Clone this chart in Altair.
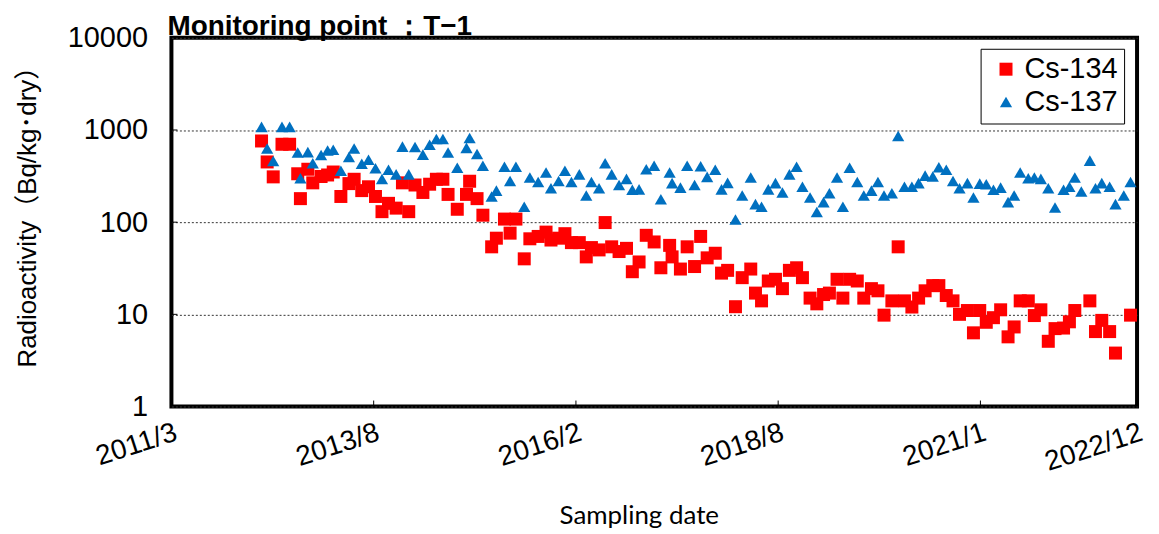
import altair as alt
import pandas as pd

dates = [
    "2012-04-15", "2012-05-10", "2012-06-06", "2012-07-15", "2012-08-18", "2012-09-23", "2012-10-05", "2012-11-07", "2012-11-29",
    "2013-01-05", "2013-02-03", "2013-02-28", "2013-04-03", "2013-05-09", "2013-06-01", "2013-07-05", "2013-08-04", "2013-09-04", "2013-10-03", "2013-11-01", "2013-12-05",
    "2014-01-02", "2014-01-30", "2014-02-27", "2014-04-03", "2014-05-03", "2014-06-02", "2014-07-01", "2014-07-24", "2014-09-03", "2014-10-14", "2014-10-28", "2014-11-30", "2014-12-26",
    "2015-02-03", "2015-02-24", "2015-04-01", "2015-04-26", "2015-05-22", "2015-06-28", "2015-07-23", "2015-08-29", "2015-10-03", "2015-10-25", "2015-11-28", "2015-12-26",
    "2016-01-24", "2016-02-28", "2016-03-30", "2016-04-22", "2016-05-26", "2016-06-22", "2016-07-21", "2016-08-23", "2016-09-25", "2016-10-21", "2016-11-20", "2016-12-22",
    "2017-01-26", "2017-02-25", "2017-04-05", "2017-04-16", "2017-05-23", "2017-06-22", "2017-07-25", "2017-08-21", "2017-09-19", "2017-10-25", "2017-11-22", "2017-12-19",
    "2018-01-23", "2018-02-22", "2018-04-01", "2018-04-22", "2018-05-19", "2018-06-18", "2018-07-20", "2018-08-20", "2018-09-20", "2018-10-22", "2018-11-17", "2018-12-21",
    "2019-01-20", "2019-02-19", "2019-03-17", "2019-04-20", "2019-05-16", "2019-06-15", "2019-07-19", "2019-08-17", "2019-09-20", "2019-10-19", "2019-11-15", "2019-12-20",
    "2020-01-17", "2020-02-14", "2020-03-18", "2020-04-17", "2020-05-16", "2020-06-19", "2020-07-16", "2020-08-18", "2020-09-17", "2020-10-16", "2020-11-20", "2020-12-17",
    "2021-01-14", "2021-02-12", "2021-03-16", "2021-04-17", "2021-05-20", "2021-06-16", "2021-07-13", "2021-08-18", "2021-09-14", "2021-10-13", "2021-11-15", "2021-12-15",
    "2022-01-22", "2022-02-17", "2022-03-13", "2022-04-11", "2022-05-19", "2022-06-13", "2022-07-11", "2022-08-15", "2022-09-10", "2022-10-17", "2022-11-16",
]

cs134 = [
    760, 450, 310, 700, 700, 335, 180, 375, 267,
    313, 325, 350, 190, 262, 292, 220, 242, 190, 130, 160, 142,
    267, 130, 253, 210, 258, 292, 292, 200, 138, 200, 278, 180, 119,
    54, 67, 108, 76, 108, 40, 66, 70, 78, 64, 67, 75,
    60, 60, 42, 53, 50, 99, 54, 48, 52, 29, 37, 72,
    61, 32, 56, 42, 31, 54, 33, 70, 41, 46, 28, 30,
    12.1, 25, 31, 17, 14, 23, 24, 19, 30, 32, 25, 15,
    13, 16.4, 17, 24, 15, 24, 23, 15, 19, 18, 9.8, 14,
    54, 14, 12, 15, 18, 20.5, 20.5, 16, 14, 10, 11, 6.3,
    11, 8.2, 9.2, 11.2, 5.7, 7.3, 14, 14, 9.7, 11.2, 5.1, 7,
    7.1, 8.3, 11, None, 14, 6.5, 8.6, 6.5, 3.8, None, 9.8,
]

cs137 = [
    1080, 630, 460, 1080, 1080, 570, 300, 575, 435,
    535, 600, 610, 362, 510, 630, 430, 475, 385, 294, 370, 330,
    660, 330, 655, 540, 690, 800, 800, 570, 390, 640, 820, 550, 410,
    190, 220, 400, 280, 400, 147, 305, 273, 345, 233, 280, 362,
    273, 330, 195, 273, 233, 435, 330, 253, 295, 225, 227, 375,
    410, 177, 345, 265, 237, 410, 253, 405, 310, 370, 227, 267,
    107, 195, 305, 157, 147, 227, 265, 210, 330, 400, 242, 185,
    129, 165, 206, 305, 147, 390, 273, 195, 220, 273, 195, 206,
    860, 242, 242, 265, 320, 313, 395, 370, 280, 233, 265, 185,
    262, 258, 225, 237, 165, 195, 345, 300, 305, 295, 233, 144,
    225, 242, 305, 215, 465, 233, 265, 242, 157, 195, 273,
]

series_names = ["Cs-134", "Cs-137"]
series_colors = ["#FF0000", "#0070C0"]
series_shapes = ["square", "triangle-up"]
x_ticks = ["2011-03-11", "2013-08-27", "2016-02-13", "2018-08-01", "2021-01-17", "2022-12-15"]
y_ticks = [1, 10, 100, 1000, 10000]
y_inner_ticks = [10, 100, 1000]


def dt(s):
    y, m, d = (int(p) for p in s.split("-"))
    return alt.DateTime(year=y, month=m, date=d, utc=True)


rows = []
for d, v in zip(dates, cs134):
    if v is not None:
        rows.append({"date": d, "value": v, "series": "Cs-134"})
for d, v in zip(dates, cs137):
    if v is not None:
        rows.append({"date": d, "value": v, "series": "Cs-137"})
df = pd.DataFrame(rows)

x_enc = alt.X(
    "date:T",
    title="Sampling date",
    scale=alt.Scale(type="utc", domain=[dt(x_ticks[0]), dt(x_ticks[-1])]),
    axis=alt.Axis(
        values=[dt(s) for s in x_ticks],
        labelExpr="utcFormat(datum.value, '%Y/%-m')",
        labelAngle=-18,
        labelAlign="right",
        labelBaseline="top",
        labelFont="Liberation Sans",
        labelFontSize=28,
        labelColor="black",
        labelPadding=12,
        labelFlush=False,
        labelOverlap=False,
        ticks=False,
        domain=False,
        grid=False,
        titleFont="Lato",
        titleFontSize=26,
        titleFontWeight="normal",
        titleColor="black",
        titleX=469,
        titleY=96,
        titleBaseline="top",
    ),
)

y_enc = alt.Y(
    "value:Q",
    title="Radioactivity（Bq/kg･dry）",
    scale=alt.Scale(type="log", domain=[1, 10000]),
    axis=alt.Axis(
        values=y_ticks,
        format="d",
        labelFont="Liberation Sans",
        labelFontSize=29,
        labelColor="black",
        labelPadding=24,
        labelFlush=False,
        labelOverlap=False,
        ticks=False,
        domain=False,
        grid=True,
        gridColor="#333333",
        gridDash=[2, 2],
        gridWidth=1,
        titleFont="Liberation Sans, Noto Sans CJK JP",
        titleFontSize=26,
        titleFontWeight="normal",
        titleColor="black",
        titleX=-144,
        titleY=173,
        titleBaseline="middle",
    ),
)

legend = alt.Legend(
    title=None,
    orient="none",
    legendX=812,
    legendY=11,
    labelFont="Liberation Sans",
    labelFontSize=29,
    labelColor="black",
    labelExpr="datum.label + '\u2009'",
    strokeColor="black",
    fillColor="white",
    padding=6,
    rowPadding=3,
    labelOffset=4,
    symbolOffset=5,
    symbolSize=160,
    symbolStrokeWidth=0,
)

points = alt.Chart(df).mark_point(filled=True, opacity=1).encode(
    x=x_enc,
    y=y_enc,
    color=alt.Color("series:N", scale=alt.Scale(domain=series_names, range=series_colors), legend=legend),
    shape=alt.Shape("series:N", scale=alt.Scale(domain=series_names, range=series_shapes), legend=legend),
    size=alt.Size("series:N", scale=alt.Scale(domain=series_names, range=[170, 150]), legend=None),
    order=alt.Order("series:N"),
)

xt = alt.Chart(pd.DataFrame({"date": x_ticks[1:-1]})).mark_rule(color="black", strokeWidth=1).encode(
    x=x_enc, y=alt.value(370), y2=alt.value(364)
)
yt = alt.Chart(pd.DataFrame({"value": y_inner_ticks})).mark_rule(color="black", strokeWidth=1).encode(
    y=y_enc, x=alt.value(0), x2=alt.value(6)
)

chart = (
    alt.layer(xt, yt, points)
    .properties(
        width=969,
        height=370,
        padding={"left": 6, "top": 4, "right": 5, "bottom": 0},
        title=alt.TitleParams(
            "Monitoring point ：T−1",
            anchor="start",
            frame="group",
            font="Liberation Sans",
            fontSize=28,
            fontWeight="bold",
            color="black",
            offset=-17,
            dx=-4,
        ),
    )
    .configure_view(stroke="black", strokeWidth=4)
)

chart.save("out.html", embed_options={"renderer": "svg", "actions": False})
